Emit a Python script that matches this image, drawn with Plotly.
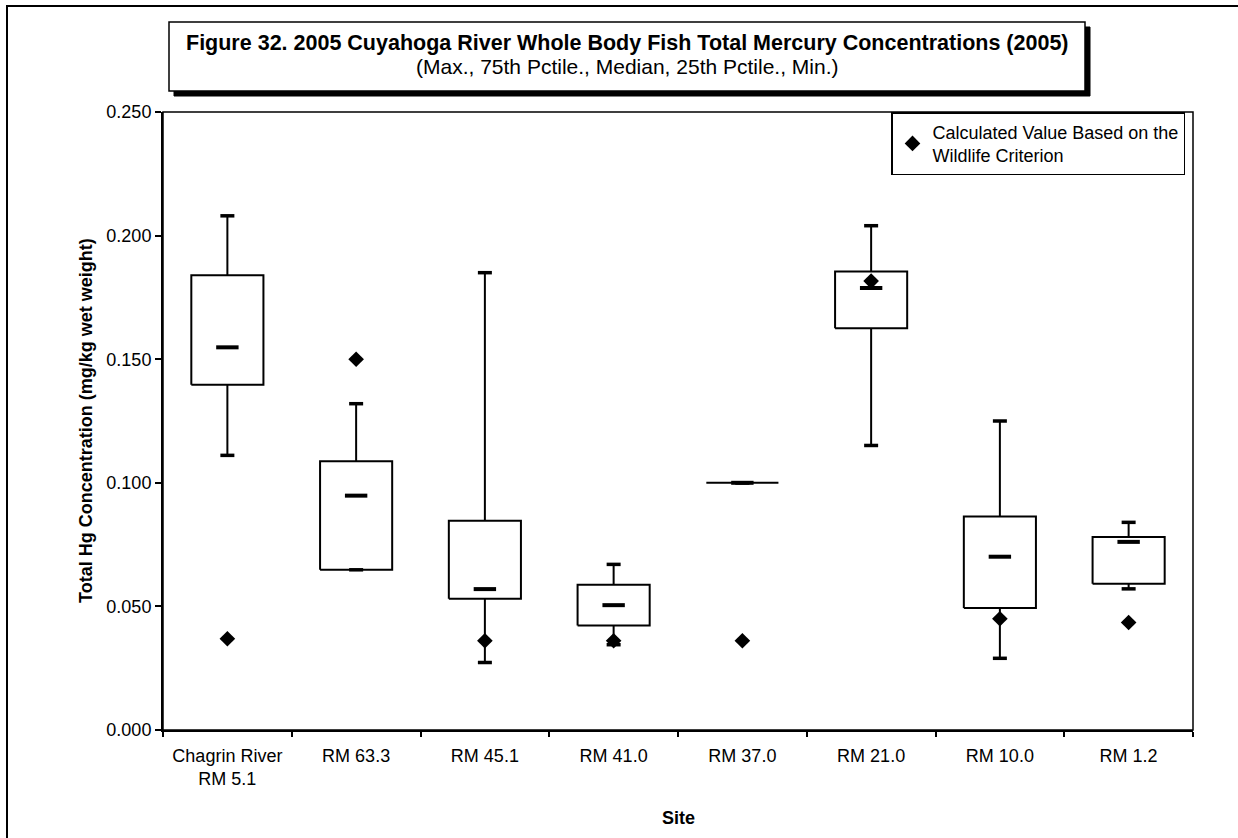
import plotly.graph_objects as go

sites = ["Chagrin River<br>RM 5.1", "RM 63.3", "RM 45.1", "RM 41.0", "RM 37.0", "RM 21.0", "RM 10.0", "RM 1.2"]
maxima = [0.208, 0.132, 0.185, 0.067, 0.100, 0.204, 0.125, 0.084]
q3 = [0.184, 0.1087, 0.0846, 0.0588, 0.100, 0.1855, 0.0864, 0.0781]
medians = [0.1548, 0.0948, 0.0570, 0.0505, 0.100, 0.1788, 0.0701, 0.0761]
q1 = [0.1397, 0.0648, 0.0531, 0.0423, 0.100, 0.1625, 0.0494, 0.0592]
minima = [0.1111, 0.0648, 0.0273, 0.0345, 0.100, 0.1151, 0.0290, 0.0571]
wildlife = [0.0369, 0.150, 0.0361, 0.0361, 0.0361, 0.1816, 0.0450, 0.0435]

W, H = 1238, 838
L, R, T, B = 163, 1193, 112, 730
FONT = "Arial, Liberation Sans, sans-serif"
idx = list(range(len(sites)))
hw = 0.28

def px(x):
    return (x - L) / (R - L)

def py(y):
    return (B - y) / (B - T)

fig = go.Figure()

# whiskers
wx, wy = [], []
for i in idx:
    wx += [i, i, None]
    wy += [minima[i], maxima[i], None]
fig.add_trace(go.Scatter(x=wx, y=wy, mode="lines", line=dict(color="black", width=2),
                         showlegend=False, hoverinfo="skip"))

# boxes
bx, by = [], []
for i in idx:
    bx += [i - hw, i + hw, i + hw, i - hw, i - hw, None]
    by += [q1[i], q1[i], q3[i], q3[i], q1[i], None]
fig.add_trace(go.Scatter(x=bx, y=by, mode="lines", fill="toself", fillcolor="white",
                         line=dict(color="black", width=2), showlegend=False, hoverinfo="skip"))

# caps
fig.add_trace(go.Scatter(x=idx + idx, y=maxima + minima, mode="markers",
                         marker=dict(symbol="line-ew", size=10, line=dict(color="black", width=3.5)),
                         showlegend=False, hoverinfo="skip"))
# medians
fig.add_trace(go.Scatter(x=idx, y=medians, mode="markers",
                         marker=dict(symbol="line-ew", size=16, line=dict(color="black", width=4)),
                         showlegend=False))
# wildlife values
fig.add_trace(go.Scatter(x=idx, y=wildlife, mode="markers",
                         marker=dict(symbol="diamond", size=12, color="black"),
                         name="Calculated Value Based on the<br>Wildlife Criterion"))

shapes = []
# outer frame (only left/top visible)
shapes.append(dict(type="rect", xref="paper", yref="paper",
                   x0=px(7), x1=px(1260), y0=py(860), y1=py(6),
                   line=dict(color="black", width=2), layer="below"))
# plot border
shapes.append(dict(type="rect", xref="paper", yref="paper", x0=0, x1=1, y0=0, y1=1,
                   line=dict(color="black", width=1.5)))
# title box shadow + box
shapes.append(dict(type="rect", xref="paper", yref="paper",
                   x0=px(174), x1=px(1090), y0=py(96), y1=py(27),
                   fillcolor="black", line=dict(color="black", width=1)))
shapes.append(dict(type="rect", xref="paper", yref="paper",
                   x0=px(169), x1=px(1085), y0=py(91), y1=py(22),
                   fillcolor="white", line=dict(color="black", width=1.5)))

annotations = [
    dict(text="<b>Figure 32. 2005 Cuyahoga River Whole Body Fish Total Mercury Concentrations (2005)</b>",
         x=px(627), y=py(43), xref="paper", yref="paper", showarrow=False,
         xanchor="center", yanchor="middle",
         font=dict(family=FONT, size=21.5, color="black")),
    dict(text="(Max., 75th Pctile., Median, 25th Pctile., Min.)",
         x=px(627), y=py(66), xref="paper", yref="paper", showarrow=False,
         xanchor="center", yanchor="middle",
         font=dict(family=FONT, size=21, color="black")),
    dict(text="<b>Total Hg Concentration (mg/kg wet weight)</b>", textangle=-90,
         x=px(86), y=py(421), xref="paper", yref="paper", showarrow=False,
         xanchor="center", yanchor="middle",
         font=dict(family=FONT, size=18, color="black")),
    dict(text="<b>Site</b>", x=px(678), y=py(818), xref="paper", yref="paper", showarrow=False,
         xanchor="center", yanchor="middle",
         font=dict(family=FONT, size=18, color="black")),
]

fig.update_layout(
    width=W, height=H,
    margin=dict(l=L, r=W - R, t=T, b=H - B),
    paper_bgcolor="white", plot_bgcolor="white",
    font=dict(family=FONT, size=18, color="black"),
    shapes=shapes, annotations=annotations,
    showlegend=True,
    legend=dict(x=px(1185), y=py(112), xanchor="right", yanchor="top",
                bordercolor="black", borderwidth=1.5, bgcolor="white",
                font=dict(family=FONT, size=18, color="black"), itemwidth=30,
                tracegroupgap=0),
    xaxis=dict(range=[-0.5, 7.5], tickmode="array", tickvals=idx, ticktext=sites,
               ticks="", showgrid=False, zeroline=False, showline=True,
               linecolor="black", linewidth=2, ticklabelstandoff=8,
               minor=dict(ticks="outside", tick0=0.5, dtick=1, ticklen=5, tickcolor="black",
                          tickwidth=2, showgrid=False),
               tickfont=dict(family=FONT, size=18, color="black")),
    yaxis=dict(range=[0, 0.25], dtick=0.05, tickformat=".3f", ticks="outside", ticklen=6,
               tickwidth=2, tickcolor="black", showgrid=False, zeroline=False, showline=True,
               linecolor="black", linewidth=2,
               tickfont=dict(family=FONT, size=18, color="black")),
)

fig.write_html("out.html")
